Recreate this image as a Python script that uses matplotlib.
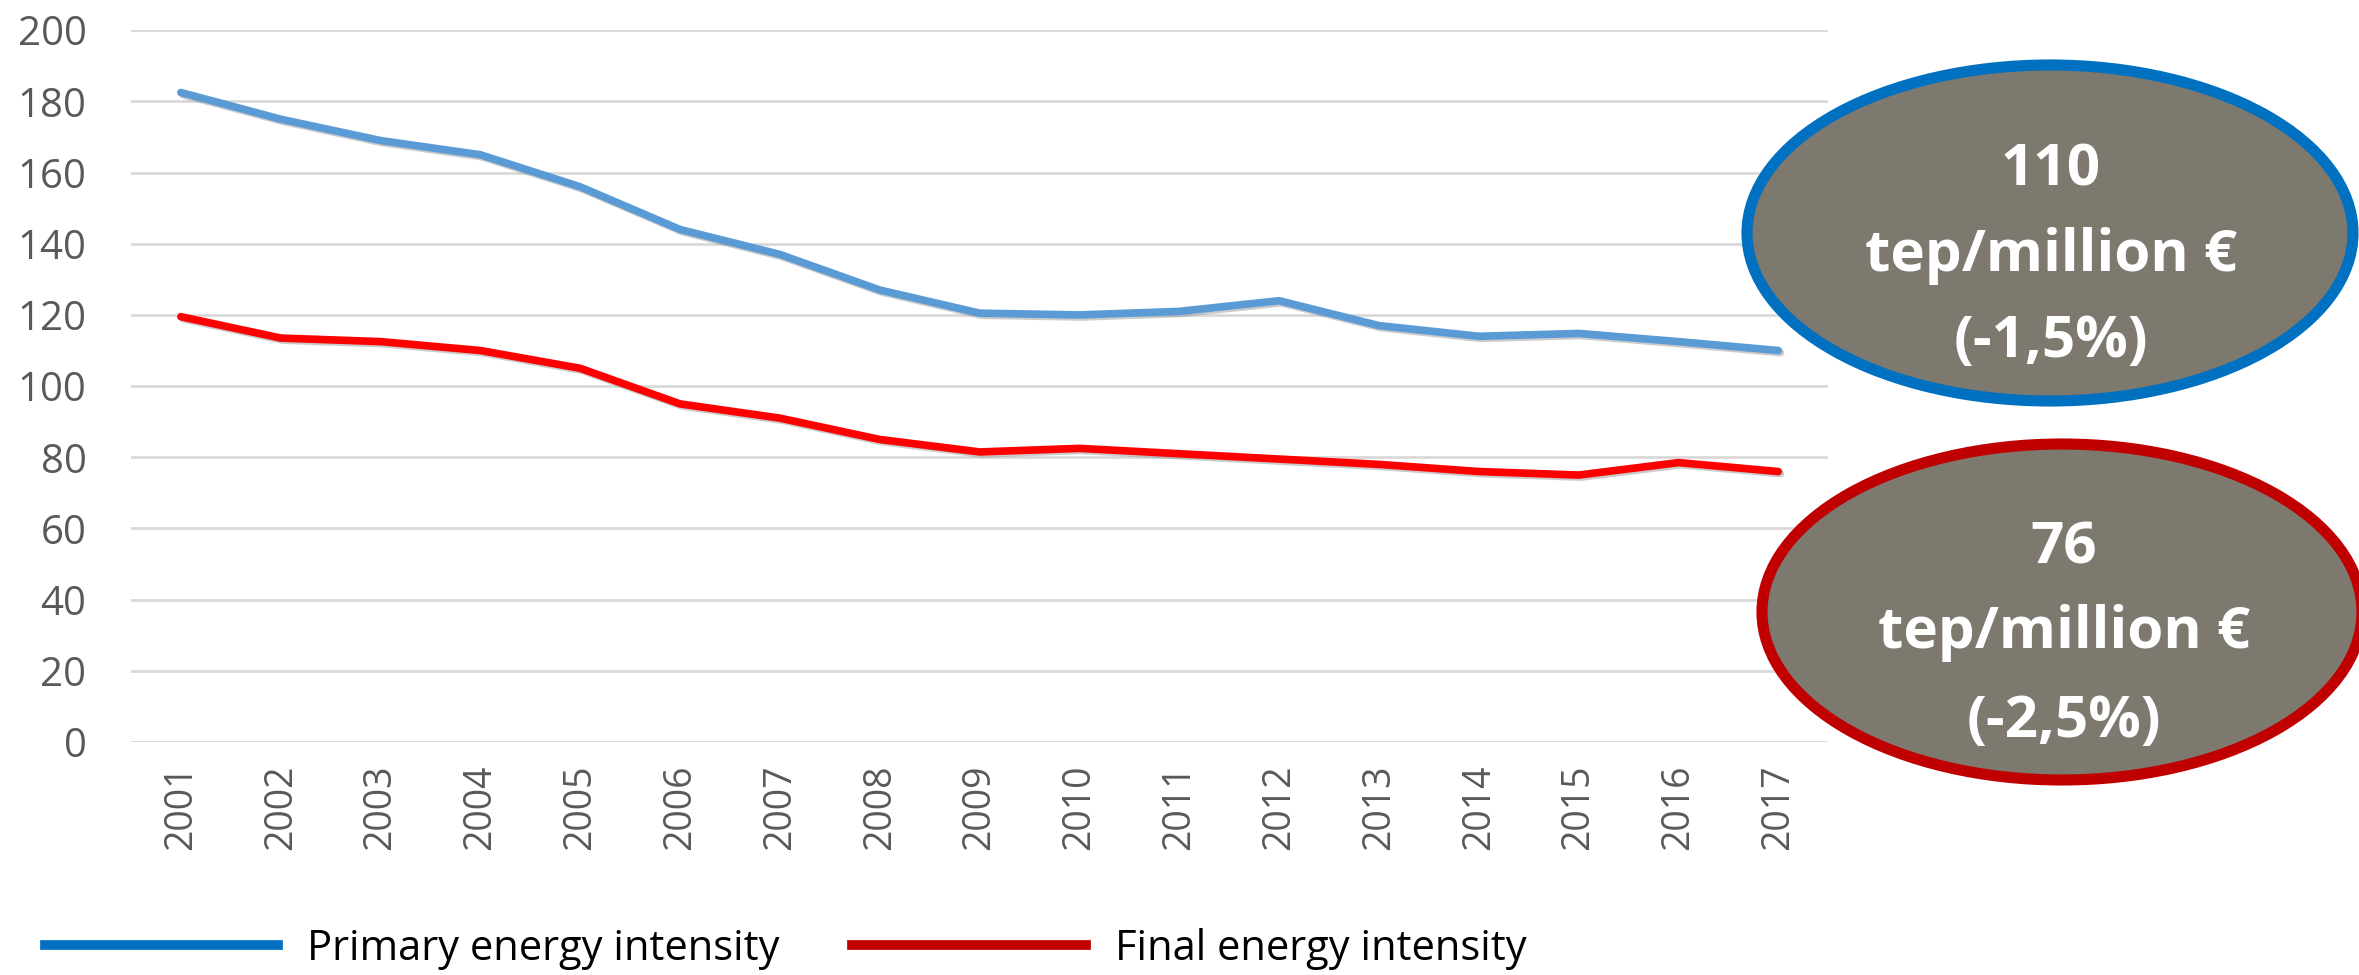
import matplotlib.pyplot as plt
import matplotlib.patheffects as pe
from matplotlib.patches import Ellipse
from matplotlib.lines import Line2D

years = [str(y) for y in range(2001, 2018)]
primary = [182.5, 175, 169, 165, 156, 144, 137, 127, 120.5, 120, 121, 124, 117, 114, 114.8, 112.5, 110]
final = [119.5, 113.5, 112.5, 110, 105, 95, 91, 85, 81.5, 82.5, 81, 79.5, 78, 76, 75, 78.5, 76]
yticks = list(range(0, 201, 20))

plt.rcParams['font.family'] = ['Open Sans', 'DejaVu Sans']

fig = plt.figure(figsize=(23.59, 9.75), dpi=100)
ax = fig.add_axes([0.0555, 0.239, 0.7195, 0.730])

shadow = [pe.SimpleLineShadow(offset=(1.5, -1.5), shadow_color='#999999', alpha=0.5), pe.Normal()]
x = range(len(years))
ax.plot(x, primary, color='#5B9BD5', lw=5.5, solid_capstyle='round', path_effects=shadow)
ax.plot(x, final, color='#FF0000', lw=5.5, solid_capstyle='round', path_effects=shadow)

ax.set_xlim(-0.5, len(years) - 0.5)
ax.set_ylim(0, 200)
ax.set_yticks(yticks)
ax.set_xticks(list(x))
ax.set_xticklabels(years, rotation=90)
ax.grid(axis='y', color='#D9D9D9', lw=2)
ax.set_axisbelow(True)
for s in ax.spines.values():
    s.set_visible(False)
ax.tick_params(axis='both', length=0, labelsize=29, colors='#595959')
ax.tick_params(axis='y', pad=32)
ax.tick_params(axis='x', pad=16, labelsize=27)

# legend
handles = [Line2D([], [], color='#0070C0', lw=7), Line2D([], [], color='#C00000', lw=7)]
fig.legend(handles, ['Primary energy intensity', 'Final energy intensity'],
           loc='center left', bbox_to_anchor=(0.003, 0.027), ncol=2, frameon=False,
           fontsize=30, handlelength=5.6, handletextpad=0.7, columnspacing=1.75)

# ellipse call-outs, drawn in pixel coordinates on an overlay
ov = fig.add_axes([0, 0, 1, 1], zorder=5)
ov.set_xlim(0, 2359)
ov.set_ylim(975, 0)
ov.axis('off')
ov.add_patch(Ellipse((2050, 233), 606, 336, facecolor='#7E796F', edgecolor='#0070C0', lw=8))
ov.add_patch(Ellipse((2062, 612), 600, 336, facecolor='#7E796F', edgecolor='#C00000', lw=8))
for cx, ys, lines in [(2051, (170, 256, 342), ['110', 'tep/million €', '(-1,5%)']),
                      (2064, (549, 633, 722), ['76', 'tep/million €', '(-2,5%)'])]:
    for yy, t in zip(ys, lines):
        ov.text(cx, yy, t, ha='center', va='center', color='white', fontsize=42, fontweight='bold')

fig.savefig('out.png', dpi=100)
